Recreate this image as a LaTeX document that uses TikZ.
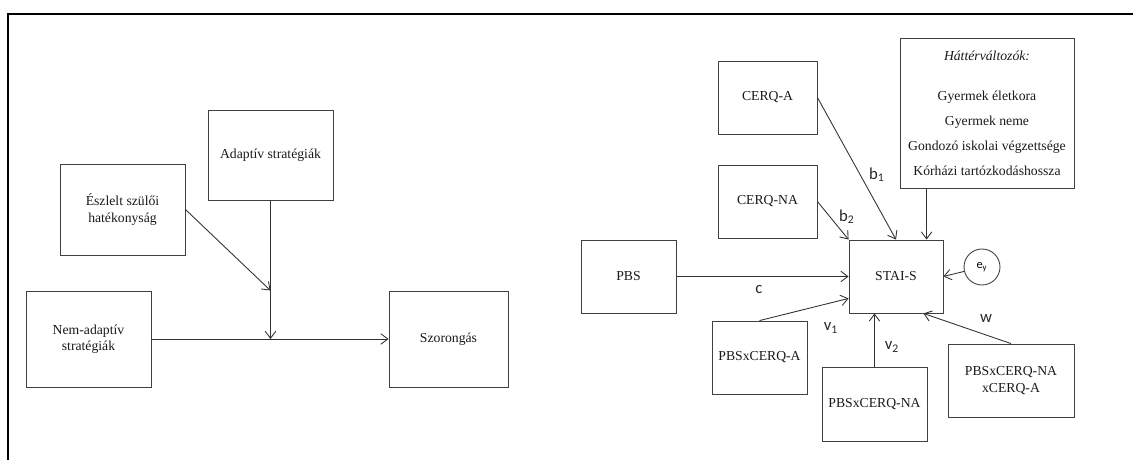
\documentclass[tikz,border=0pt]{standalone}
\usepackage{fontspec}
\setmainfont{Liberation Serif}
\newfontfamily\coeffont{Carlito}
\usetikzlibrary{arrows.meta, positioning, calc}

\begin{document}
\begin{tikzpicture}[
    x=0.02cm, y=-0.02cm,
    % Styles
    box/.style={rectangle, draw=black!75, line width=0.5pt, align=center, inner sep=2pt, text=black!90, font=\fontsize{7.8}{9.4}\selectfont},
    errc/.style={circle, draw=black!75, line width=0.5pt, minimum size=0.72cm, inner sep=0pt, font=\coeffont\fontsize{7}{8}\selectfont},
    arrow/.style={-{Straight Barb[length=4pt,width=6pt]}, black!80, line width=0.5pt},
    coef/.style={font=\coeffont\fontsize{9.5}{11}\selectfont, text=black!85},
    frame/.style={black, line width=1.3pt},
]
\useasboundingbox (0,0) rectangle (1137,460);
\draw[frame] (8,460) -- (8,14) -- (1133,14);

% === MODERATION MODEL (Left) ===
\node[box, minimum width=2.5cm, minimum height=1.8cm] (adapt) at (270.5,155) {Adaptív stratégiák};
\node[box, minimum width=2.5cm, minimum height=1.82cm] (percv) at (122.5,209.5) {Észlelt szülői\\hatékonyság};
\node[box, minimum width=2.5cm, minimum height=1.92cm] (nonadapt) at (88.5,339) {Nem-adaptív\\stratégiák};
\node[box, minimum width=2.38cm, minimum height=1.92cm] (anx) at (448.5,339) {Szorongás};

\coordinate (join) at (adapt.south |- anx.west);
\coordinate (modpt) at ($(adapt.south)!0.65!(join)$);

% Left arrows
\draw[arrow] (nonadapt.east) -- (anx.west);
\draw[arrow] (adapt.south) -- (join);
\draw[arrow] (percv.east) -- (modpt);

% === REGRESSION MODEL (Right) ===
\node[box, minimum width=1.98cm, minimum height=1.46cm] (cerqa) at (767.5,97.5) {CERQ-A};
\node[box, minimum width=1.98cm, minimum height=1.46cm] (cerqna) at (767.5,201.5) {CERQ-NA};
\node[box, minimum width=1.9cm, minimum height=1.46cm] (pbs) at (628.5,276.5) {PBS};
\node[box, minimum width=1.88cm, minimum height=1.46cm] (stai) at (896,276.5) {STAI-S};
\node[box, minimum width=3.48cm, minimum height=3cm, font=\fontsize{7.8}{14.2}\selectfont] (covar) at (987,113)
    {\textit{Háttérváltozók:}\\[8.5pt]Gyermek életkora\\Gyermek neme\\Gondozó iskolai végzettsége\\Kórházi tartózkodáshossza};
\node[errc] (ey) at (982,267) {e\textsubscript{y}};

% Interaction terms
\node[box, minimum width=1.9cm, minimum height=1.46cm] (pbsa) at (759.5,357.5) {PBSxCERQ-A};
\node[box, minimum width=2.1cm, minimum height=1.48cm] (pbsna) at (874.5,404) {PBSxCERQ-NA};
\node[box, minimum width=2.52cm, minimum height=1.46cm] (pbsnaa) at (1011,380.5) {PBSxCERQ-NA\\xCERQ-A};

% Right arrows
\draw[arrow] (cerqa.east) -- (stai.north);
\draw[arrow] (cerqna.east) -- (stai.north west);
\draw[arrow] ([xshift=0.54cm]covar.south west) -- ([xshift=0.54cm]covar.south west |- stai.north);
\draw[arrow] (pbs.east) -- (stai.west);
\draw[arrow] (ey) -- (stai.east);
\draw[arrow] (pbsa.north) -- ([yshift=0.3cm]stai.south west);
\draw[arrow] (pbsna.north) -- (pbsna.north |- stai.south);
\draw[arrow] (pbsnaa.north) -- ([xshift=-0.4cm]stai.south east);

% Path labels
\node[coef] (lb1) at (877,175) {b\textsubscript{1}};
\node[coef] (lb2) at (847,217) {b\textsubscript{2}};
\node[coef] (lc) at (759,290) {c};
\node[coef] (lv1) at (831,328) {v\textsubscript{1}};
\node[coef] (lv2) at (892,347) {v\textsubscript{2}};
\node[coef] (lw) at (986,319) {w};

\end{tikzpicture}
\end{document}
